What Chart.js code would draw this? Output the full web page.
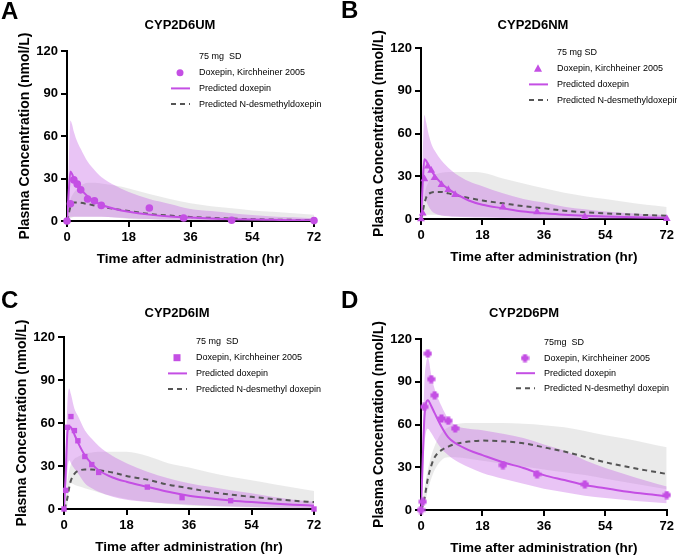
<!DOCTYPE html>
<html>
<head>
<meta charset="utf-8">
<script src="https://cdn.jsdelivr.net/npm/chart.js"></script>
<style>
  body { margin: 0; background: #fff; }
  #wrap { position: relative; width: 677px; height: 556px; }
  canvas { position: absolute; }
</style>
</head>
<body>
<div id="wrap">
  <canvas id="pA" width="338" height="278" style="left:0;top:0"></canvas>
  <canvas id="pB" width="337" height="278" style="left:340px;top:0"></canvas>
  <canvas id="pC" width="338" height="276" style="left:0;top:280px"></canvas>
  <canvas id="pD" width="337" height="276" style="left:340px;top:280px"></canvas>
</div>
<script>
// 時間軸
const tPred = [0, 0.5, 1, 1.5, 2, 3, 4, 6, 8, 10, 14, 18, 24, 30, 36, 42, 48, 54, 60, 66, 72];
const tObsUM = [0, 1, 2, 3, 4, 6, 8, 10, 24, 34, 48, 72];
const tObs = [0, 0.5, 1, 2, 3, 4, 6, 8, 10, 24, 34, 48, 72];
const xTicks = [0, 18, 36, 54, 72];
const yTicks = [0, 30, 60, 90, 120];

// A: CYP2D6UM
const umObs = [0, 12.2, 29, 26, 22, 15.5, 14.3, 11, 9.2, 2.1, 0.5, 0.3];
const umDox = [0, 20, 35, 33, 30, 26, 22.5, 17.5, 14, 11.5, 8.5, 6.5, 4.5, 3.2, 2.4, 1.8, 1.3, 1.0, 0.8, 0.6, 0.5];
const umDoxHi = [0, 40, 71, 68, 63, 56, 51, 42, 36, 31, 25, 20.5, 15.5, 12, 8.5, 7, 5.5, 4.2, 3.2, 2.6, 2];
const umDoxLo = [0, 1.5, 3, 3, 3, 3, 3, 3, 3, 3, 2.5, 2, 1.5, 1, 0.8, 0.6, 0.5, 0.4, 0.3, 0.2, 0.2];
const umNor = [0, 5, 10, 12, 13, 13, 12.8, 12, 11, 10, 8.5, 7, 5, 3.8, 2.8, 2.2, 1.7, 1.3, 1.0, 0.8, 0.6];
const umNorHi = [0, 8, 15, 18, 20, 23, 25, 27, 27, 26.5, 25, 23, 19, 15.5, 12.5, 10.5, 9, 7.5, 6.5, 5.5, 4.5];
const umNorLo = [0, 1, 2, 2.5, 3, 3, 3, 3, 3, 3, 2.5, 1.5, 1, 0.7, 0.5, 0.4, 0.3, 0.3, 0.2, 0.2, 0.2];

// B: CYP2D6NM
const nmObs = [0, 4, 28, 37, 34, 29, 24, 20.5, 17, 8.3, 5, 1.5, 0.2];
const nmDox = [0, 25, 42, 41, 38.5, 34, 30.5, 25, 21, 18, 13, 10, 7.5, 5.2, 4, 3, 2.3, 1.8, 1.4, 1.1, 0.9];
const nmDoxHi = [0, 45, 73, 68, 62, 53, 48, 41, 36, 32, 26.5, 23, 18, 14, 11.5, 8.6, 6.8, 5.3, 4.2, 3.4, 2.8];
const nmDoxLo = [0, 5, 15, 13, 10, 6, 4, 2.5, 2, 1.5, 1.2, 1, 0.7, 0.5, 0.3, 0.3, 0.2, 0.2, 0.1, 0.1, 0.1];
const nmNor = [0, 5, 11, 15, 17, 18.5, 19, 19, 18, 16.8, 14.8, 13, 11, 9, 7.5, 5.8, 4.8, 4, 3.3, 2.8, 2.3];
const nmNorHi = [0, 8, 16, 22, 25, 29, 31, 32.5, 33, 33, 33, 32.5, 28.5, 25, 21.5, 18.5, 16, 14, 12, 10, 8.5];
const nmNorLo = [0, 1, 2, 3, 3, 3, 3, 2.5, 2.2, 2, 1.8, 1.5, 1.2, 1, 0.8, 0.6, 0.5, 0.4, 0.3, 0.3, 0.2];

// C: CYP2D6IM
const imObs = [0, 13, 57, 64.5, 54.7, 47.6, 36.6, 31, 25.5, 15.3, 7.9, 5.8, 0];
const imDox = [0, 25, 54, 57.5, 57, 52, 46.5, 37.5, 31.5, 27, 22, 19, 15.5, 12, 9.3, 7.5, 6, 4.8, 3.8, 3, 2.3];
const imDoxHi = [0, 40, 75, 84, 80, 70, 65, 55, 49, 44, 37, 32, 26, 21.5, 18, 15.5, 13, 11, 8.5, 6.5, 5];
const imDoxLo = [0, 10, 28, 34, 32, 28, 25, 18, 14.5, 12, 8.5, 6.5, 5, 3.8, 3, 2.3, 1.8, 1.4, 1.1, 0.9, 0.7];
const imNor = [0, 3, 8, 15, 20, 24.5, 26.5, 27.5, 27.5, 27, 25.5, 23, 20.5, 17, 14.5, 12, 10, 8.5, 7, 5.8, 4.8];
const imNorHi = [0, 10, 20, 27, 31, 35, 36.5, 38.5, 39.5, 40, 40, 40, 37, 32, 29, 25.5, 22.5, 20, 17.5, 15, 12.5];
const imNorLo = [0, 1, 3, 15, 18, 17, 16, 14.5, 13, 11.5, 9, 7, 5, 3.5, 2.5, 2, 1.5, 1, 0.8, 0.6, 0.5];

// D: CYP2D6PM
const pmObs = [0, 5.8, 72.4, 109.7, 91.8, 80.5, 64.2, 62.6, 57.2, 31.5, 25, 18, 10.5];
const pmDox = [0, 35, 65, 75, 77, 73, 68, 58.5, 51, 47, 42, 38.5, 33.5, 29.5, 24.5, 21, 17.5, 15.3, 13, 11.2, 9.7];
const pmDoxHi = [0, 50, 90, 103, 107, 95, 85, 73, 64, 59.5, 57, 56, 53.5, 50.5, 46, 41.5, 35, 29.5, 25, 20.5, 16.5];
const pmDoxLo = [0, 20, 45, 55, 57, 54, 50, 43, 38.5, 35, 30, 26, 22, 18.5, 15, 12.5, 10, 8.5, 7, 5.8, 4.8];
const pmNor = [0, 3, 8, 15, 22, 31, 37, 42, 44.5, 46.3, 48, 48.7, 48.2, 46.8, 44, 41, 37.3, 33.5, 30.5, 27.8, 25.3];
const pmNorHi = [0, 8, 15, 22, 28, 38, 45, 54, 58, 60, 61, 61, 61, 60.5, 59.5, 58, 55.5, 52.5, 50, 47, 44];
const pmNorLo = [0, 2, 4, 8, 14, 22, 28, 35, 37, 37, 36, 34.5, 32.5, 30.5, 28.5, 26.5, 24.5, 22, 19.5, 17, 14.5];

const PURPLE = '#c44fe4';
const PURPLE_BAND = 'rgba(196, 100, 230, 0.38)';
const GRAY_BAND = 'rgba(130, 130, 130, 0.17)';
const DASH = '#555555';
const FONT = '"Liberation Sans", Arial, sans-serif';

const xy = (ts, ys) => ts.map((t, i) => ({ x: t, y: ys[i] }));

// PM用の十字マーカー
function plusMarker() {
    const c = document.createElement('canvas');
    c.width = 9; c.height = 9;
    const g = c.getContext('2d');
    g.fillStyle = PURPLE;
    g.fillRect(2.5, 0.5, 4, 8);
    g.fillRect(0.5, 2.5, 8, 4);
    return c;
}
const plusImg = plusMarker();

function drawMarker(ctx, style, x, y) {
    ctx.fillStyle = PURPLE;
    ctx.beginPath();
    if (style === 'circle') {
        ctx.arc(x, y, 3.5, 0, Math.PI * 2);
        ctx.fill();
    } else if (style === 'triangle') {
        ctx.moveTo(x, y - 4.5); ctx.lineTo(x + 4, y + 3); ctx.lineTo(x - 4, y + 3);
        ctx.closePath(); ctx.fill();
    } else if (style === 'rect') {
        ctx.fillRect(x - 3.5, y - 3.5, 7, 7);
    } else {
        ctx.drawImage(plusImg, x - 4.5, y - 4.5);
    }
}

// タイトル・凡例・パネル記号
const decoPlugin = {
    id: 'deco',
    afterDraw(chart, args, o) {
        const ctx = chart.ctx;
        const a = chart.chartArea;
        ctx.save();
        ctx.fillStyle = '#000';
        ctx.textAlign = 'left';
        ctx.textBaseline = 'alphabetic';
        ctx.font = 'bold 24px ' + FONT;
        ctx.fillText(o.letter, o.letterX, o.letterY);

        ctx.textAlign = 'center';
        ctx.textBaseline = 'middle';
        ctx.font = 'bold 13px ' + FONT;
        ctx.fillText(o.title, o.titleX, o.titleY);

        const lx = a.left + o.legX;
        const ly = a.top + o.legY;
        const dy = o.legDy;
        ctx.textAlign = 'left';
        ctx.font = '9px ' + FONT;
        ctx.fillText(o.dose, lx, ly);
        ctx.fillText('Doxepin, Kirchheiner 2005', lx, ly + dy);
        ctx.fillText('Predicted doxepin', lx, ly + dy * 2);
        ctx.fillText(o.metab, lx, ly + dy * 3);

        drawMarker(ctx, o.marker, lx - 19, ly + dy);

        ctx.lineWidth = 2;
        ctx.strokeStyle = PURPLE;
        ctx.beginPath();
        ctx.moveTo(lx - 28, ly + dy * 2); ctx.lineTo(lx - 9, ly + dy * 2);
        ctx.stroke();
        ctx.strokeStyle = DASH;
        ctx.setLineDash([5, 4]);
        ctx.beginPath();
        ctx.moveTo(lx - 28, ly + dy * 3); ctx.lineTo(lx - 9, ly + dy * 3);
        ctx.stroke();
        ctx.restore();
    }
};

function makePanel(id, p) {
    const obsStyle = p.marker === 'plus' ? plusImg : p.marker;
    return new Chart(document.getElementById(id), {
        type: 'line',
        data: {
            datasets: [
                {
                    type: 'scatter',
                    data: xy(p.tObs, p.obs),
                    pointStyle: obsStyle,
                    pointRadius: p.marker === 'triangle' ? 4.5 : 3.8,
                    backgroundColor: PURPLE,
                    borderColor: PURPLE,
                    borderWidth: 0,
                    clip: false,
                },
                {
                    data: xy(tPred, p.dox),
                    borderColor: PURPLE,
                    borderWidth: 2,
                    pointRadius: 0,
                    fill: false,
                    cubicInterpolationMode: 'monotone',
                },
                {
                    data: xy(tPred, p.nor),
                    borderColor: DASH,
                    borderWidth: 2,
                    borderDash: [5, 4],
                    pointRadius: 0,
                    fill: false,
                    cubicInterpolationMode: 'monotone',
                },
                {
                    data: xy(tPred, p.doxHi),
                    borderWidth: 0,
                    pointRadius: 0,
                    backgroundColor: PURPLE_BAND,
                    fill: '+1',
                    cubicInterpolationMode: 'monotone',
                },
                {
                    data: xy(tPred, p.doxLo),
                    borderWidth: 0,
                    pointRadius: 0,
                    fill: false,
                    cubicInterpolationMode: 'monotone',
                },
                {
                    data: xy(tPred, p.norHi),
                    borderWidth: 0,
                    pointRadius: 0,
                    backgroundColor: GRAY_BAND,
                    fill: '+1',
                    cubicInterpolationMode: 'monotone',
                },
                {
                    data: xy(tPred, p.norLo),
                    borderWidth: 0,
                    pointRadius: 0,
                    fill: false,
                    cubicInterpolationMode: 'monotone',
                },
            ]
        },
        options: {
            responsive: false,
            animation: false,
            devicePixelRatio: 1,
            layout: { padding: p.pad },
            plugins: {
                legend: { display: false },
                tooltip: { enabled: false },
                deco: p.deco,
            },
            scales: {
                x: {
                    type: 'linear',
                    min: 0,
                    max: 72,
                    afterBuildTicks: s => { s.ticks = xTicks.map(v => ({ value: v })); },
                    afterFit: s => { s.height = 46; },
                    grid: { drawOnChartArea: false, color: '#000', lineWidth: 2, tickLength: 6 },
                    border: { color: '#000', width: 2 },
                    ticks: { color: '#000', padding: 3, font: { family: FONT, size: 13, weight: 'bold' } },
                    title: {
                        display: true,
                        text: 'Time after administration (hr)',
                        color: '#000',
                        padding: { top: 0, bottom: 0 },
                        font: { family: FONT, size: 13.5, weight: 'bold' },
                    },
                },
                y: {
                    min: 0,
                    max: 120,
                    afterBuildTicks: s => { s.ticks = yTicks.map(v => ({ value: v })); },
                    afterFit: s => { s.width = 52; },
                    grid: { drawOnChartArea: false, color: '#000', lineWidth: 2, tickLength: 6 },
                    border: { color: '#000', width: 2 },
                    ticks: { color: '#000', padding: 3, font: { family: FONT, size: 13, weight: 'bold' } },
                    title: {
                        display: true,
                        text: 'Plasma Concentration (nmol/L)',
                        color: '#000',
                        padding: { top: 2, bottom: 0 },
                        font: { family: FONT, size: 14, weight: 'bold' },
                    },
                },
            },
        },
        plugins: [decoPlugin],
    });
}

makePanel('pA', {
    tObs: tObsUM, obs: umObs, dox: umDox, doxHi: umDoxHi, doxLo: umDoxLo,
    nor: umNor, norHi: umNorHi, norLo: umNorLo, marker: 'circle',
    pad: { left: 15, top: 51, right: 24, bottom: 11 },
    deco: { letter: 'A', letterX: 1, letterY: 19, title: 'CYP2D6UM', titleX: 180, titleY: 25,
            legX: 132, legY: 6, legDy: 15.7, dose: '75 mg  SD', marker: 'circle',
            metab: 'Predicted N-desmethyldoxepin' },
});

makePanel('pB', {
    tObs: tObs, obs: nmObs, dox: nmDox, doxHi: nmDoxHi, doxLo: nmDoxLo,
    nor: nmNor, norHi: nmNorHi, norLo: nmNorLo, marker: 'triangle',
    pad: { left: 29, top: 48, right: 9, bottom: 13 },
    deco: { letter: 'B', letterX: 1, letterY: 18, title: 'CYP2D6NM', titleX: 193, titleY: 25,
            legX: 136, legY: 5, legDy: 15.7, dose: '75 mg SD', marker: 'triangle',
            metab: 'Predicted N-desmethyldoxepin' },
});

makePanel('pC', {
    tObs: tObs, obs: imObs, dox: imDox, doxHi: imDoxHi, doxLo: imDoxLo,
    nor: imNor, norHi: imNorHi, norLo: imNorLo, marker: 'rect',
    pad: { left: 12, top: 57, right: 24, bottom: 1 },
    deco: { letter: 'C', letterX: 1, letterY: 28, title: 'CYP2D6IM', titleX: 177, titleY: 33,
            legX: 132, legY: 5, legDy: 15.7, dose: '75 mg  SD', marker: 'rect',
            metab: 'Predicted N-desmethyl doxepin' },
});

makePanel('pD', {
    tObs: tObs, obs: pmObs, dox: pmDox, doxHi: pmDoxHi, doxLo: pmDoxLo,
    nor: pmNor, norHi: pmNorHi, norLo: pmNorLo, marker: 'plus',
    pad: { left: 29, top: 59, right: 8, bottom: 0 },
    deco: { letter: 'D', letterX: 1, letterY: 28, title: 'CYP2D6PM', titleX: 184, titleY: 33,
            legX: 123, legY: 4, legDy: 15.1, dose: '75mg  SD', marker: 'plus',
            metab: 'Predicted N-desmethyl doxepin' },
});
</script>
</body>
</html>
